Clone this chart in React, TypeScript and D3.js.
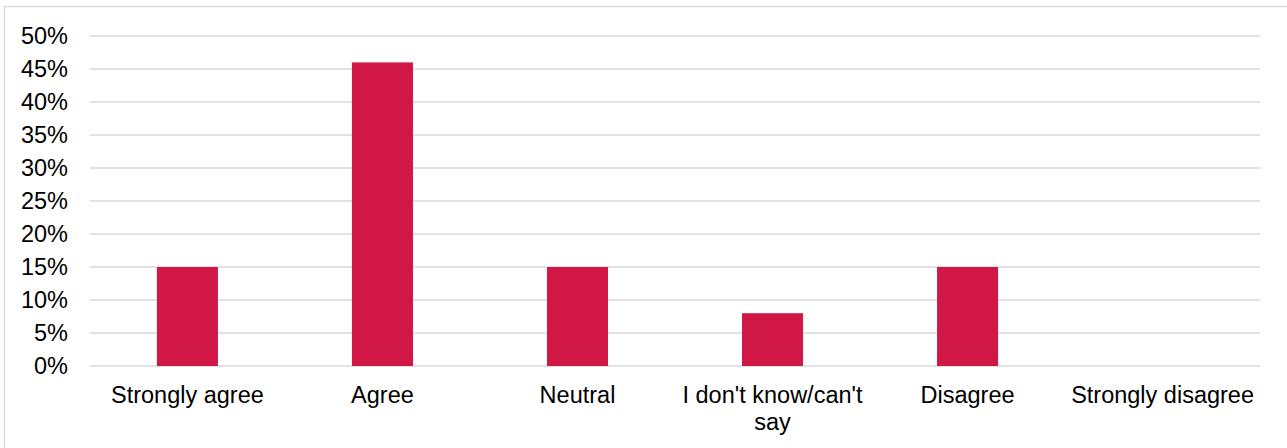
import { useEffect, useRef } from 'react'
import * as d3 from 'd3'

const categories = ['Strongly agree', 'Agree', 'Neutral', "I don't know/can't say", 'Disagree', 'Strongly disagree']
const shares = [15, 46, 15, 8, 15, 0]
const yTicks = [0, 5, 10, 15, 20, 25, 30, 35, 40, 45, 50]

const W = 1287
const H = 448
const BAR_COLOR = '#D01746'
const GRID_COLOR = '#D9D9D9'
const FONT = '"Liberation Sans", Arial, sans-serif'

export default function App() {
  const svgRef = useRef<SVGSVGElement>(null)

  useEffect(() => {
    if (!svgRef.current) return
    const svg = d3.select(svgRef.current)
    svg.selectAll('*').remove()

    const margin = { left: 90, right: 27, top: 36, bottom: 82 }
    const innerW = W - margin.left - margin.right
    const innerH = H - margin.top - margin.bottom

    // chart frame
    svg.append('rect')
      .attr('x', 4.5)
      .attr('y', 6.5)
      .attr('width', W)
      .attr('height', H)
      .attr('fill', 'white')
      .attr('stroke', GRID_COLOR)
      .attr('stroke-width', 1.5)

    const x = d3.scaleBand<string>()
      .domain(categories)
      .range([0, innerW])
      .paddingInner(0.687)
      .paddingOuter(0.343)

    const y = d3.scaleLinear()
      .domain([0, 50])
      .range([innerH, 0])

    const g = svg.append('g')
      .attr('transform', `translate(${margin.left},${margin.top})`)

    // gridlines
    g.selectAll('.grid')
      .data(yTicks)
      .enter().append('line')
      .attr('x1', 0)
      .attr('x2', innerW)
      .attr('y1', d => y(d))
      .attr('y2', d => y(d))
      .attr('stroke', GRID_COLOR)
      .attr('stroke-width', 1.5)

    // y labels
    g.selectAll('.ylab')
      .data(yTicks)
      .enter().append('text')
      .attr('x', -22)
      .attr('y', d => y(d))
      .attr('dy', '0.35em')
      .attr('text-anchor', 'end')
      .style('font-family', FONT)
      .style('font-size', '23.5px')
      .style('fill', '#000')
      .text(d => `${d}%`)

    // bars
    g.selectAll('.bar')
      .data(categories)
      .enter().append('rect')
      .attr('x', d => x(d)!)
      .attr('width', x.bandwidth())
      .attr('y', (d, i) => y(shares[i]))
      .attr('height', (d, i) => y(0) - y(shares[i]))
      .attr('fill', BAR_COLOR)

    // x labels, wrapping the long one
    const step = x.step()
    categories.forEach(c => {
      const cx = x(c)! + x.bandwidth() / 2
      const lines = c === "I don't know/can't say" ? ["I don't know/can't", 'say'] : [c]
      const t = g.append('text')
        .attr('text-anchor', 'middle')
        .style('font-family', FONT)
        .style('font-size', '23.5px')
        .style('fill', '#000')
      lines.forEach((ln, k) => {
        t.append('tspan')
          .attr('x', cx)
          .attr('y', innerH + 37 + k * 27)
          .text(ln)
      })
      void step
    })
  }, [])

  return (
    <svg
      ref={svgRef}
      width={W}
      height={H}
      style={{ position: 'absolute', left: 0, top: 0, display: 'block' }}
    />
  )
}
